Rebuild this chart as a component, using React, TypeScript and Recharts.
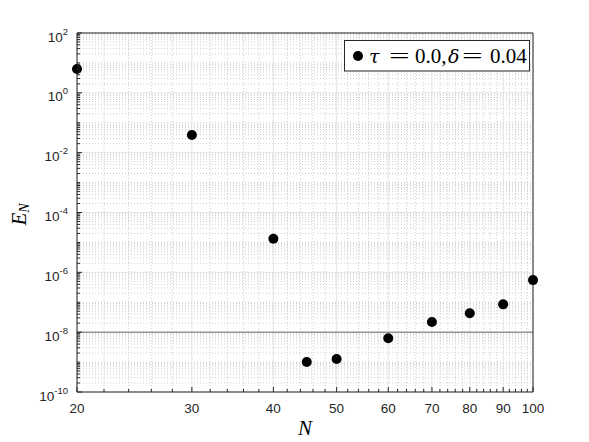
import React from 'react';
import { ScatterChart, Scatter, XAxis, YAxis, ReferenceLine, Legend } from 'recharts';

// ---- data ----
const nValues = [20, 30, 40, 45, 50, 60, 70, 80, 90, 100];
const errorValues = [6.3, 0.039, 1.32e-5, 1.0e-9, 1.26e-9, 6.3e-9, 2.2e-8, 4.3e-8, 8.5e-8, 5.5e-7];
const xMajorTicks = [20, 30, 40, 50, 60, 70, 80, 90, 100];
const xMinorTicks = [22, 24, 26, 28, 32, 34, 36, 38, 42, 44, 46, 48, 52, 54, 56, 58, 62, 64, 66, 68, 72, 74, 76, 78, 82, 84, 86, 88, 92, 94, 96, 98];
const yMajorExponents = [-10, -8, -6, -4, -2, 0, 2];
const yDecadeExponents = [-10, -9, -8, -7, -6, -5, -4, -3, -2, -1, 0, 1];
const yMantissas = [1, 2, 3, 4, 5, 6, 7, 8, 9];
const thresholdValue = 1e-8;
const xDomain = [20, 100];
const yDomain = [1e-10, 1e2];
const seriesName = 'τ = 0.0, δ = 0.04';

const data = nValues.map((n, i) => ({ n, e: errorValues[i] }));
const yMajorTicks = yMajorExponents.map((k) => Math.pow(10, k));
const yMinorTicks: number[] = [];
yDecadeExponents.forEach((k) => {
  yMantissas.forEach((m) => {
    if (m === 1 && yMajorExponents.includes(k)) return;
    yMinorTicks.push(m * Math.pow(10, k));
  });
});
const xAllTicks = [...xMajorTicks, ...xMinorTicks].sort((a, b) => a - b);
const yAllTicks = [...yMajorTicks, ...yMinorTicks].sort((a, b) => a - b);

// ---- style ----
const AXIS = '#262626';
const MAJOR_GRID = '#e3e3e3';
const MINOR_GRID = '#cfcfcf';
const SANS = '"Liberation Sans", Arial, Helvetica, sans-serif';
const SERIF = '"Liberation Serif", "DejaVu Serif", serif';
const GREEK = '"DejaVu Serif", serif';

const isMajorX = (v: number) => xMajorTicks.includes(v);
const yExp = (v: number) => Math.round(Math.log10(v));
const isMajorY = (v: number) => {
  const l = Math.log10(v);
  return Math.abs(l - Math.round(l)) < 1e-6 && yMajorExponents.includes(Math.round(l));
};

const BottomTick = (props: any) => {
  const { x, y, payload } = props;
  const v = payload.value;
  const major = isMajorX(v);
  return (
    <g>
      <line x1={x} x2={x} y1={y} y2={y - (major ? 5 : 3)} stroke={AXIS} strokeWidth={1} />
      {major && (
        <text x={x} y={y + 21} textAnchor="middle" fontFamily={SANS} fontSize={13.5} fill={AXIS}>
          {v}
        </text>
      )}
    </g>
  );
};

const TopTick = (props: any) => {
  const { x, y, payload } = props;
  const major = isMajorX(payload.value);
  return <line x1={x} x2={x} y1={y} y2={y + (major ? 5 : 3)} stroke={AXIS} strokeWidth={1} />;
};

const LeftTick = (props: any) => {
  const { x, y, payload } = props;
  const v = payload.value;
  const major = isMajorY(v);
  return (
    <g>
      <line x1={x} x2={x + (major ? 5 : 3)} y1={y} y2={y} stroke={AXIS} strokeWidth={1} />
      {major && (
        <text x={x - 9} y={y + 8.5} textAnchor="end" fontFamily={SANS} fontSize={13.5} fill={AXIS}>
          10
          <tspan dy={-7} fontSize={9.5}>{String(yExp(v))}</tspan>
        </text>
      )}
    </g>
  );
};

const RightTick = (props: any) => {
  const { x, y, payload } = props;
  const major = isMajorY(payload.value);
  return <line x1={x} x2={x - (major ? 5 : 3)} y1={y} y2={y} stroke={AXIS} strokeWidth={1} />;
};

const XLabel = (props: any) => {
  const vb = props.viewBox || {};
  return (
    <text x={vb.x + vb.width / 2} y={vb.y + 43} textAnchor="middle" fontFamily={SERIF} fontStyle="italic" fontSize={21} fill="#000">
      N
    </text>
  );
};

const YLabel = (props: any) => {
  const vb = props.viewBox || {};
  const cx = vb.x + 26;
  const cy = vb.y + vb.height / 2 + 2;
  return (
    <text transform={`translate(${cx},${cy}) rotate(-90)`} textAnchor="middle" fontFamily={SERIF} fontStyle="italic" fontSize={21} fill="#000">
      E<tspan dy={3} fontSize={14}>N</tspan>
    </text>
  );
};

const Dot = (props: any) => {
  const { cx, cy } = props;
  return <circle cx={cx} cy={cy} r={5} fill="#000" />;
};

const Eq = ({ x }: { x: number }) => (
  <text transform={`translate(${x},23) scale(1.75,1)`} fontFamily={SERIF} fontSize={21} fill="#000">=</text>
);

const LegendBox = () => (
  <svg width={187} height={32} style={{ display: 'block' }}>
    <rect x={0.5} y={0.5} width={185} height={30.5} fill="#fff" stroke={AXIS} strokeWidth={1} />
    <circle cx={14} cy={16} r={5} fill="#000" />
    <text y={23} fontFamily={SERIF} fontSize={21} fill="#000">
      <tspan x={25} fontStyle="italic" fontFamily={GREEK} fontSize={19}>τ</tspan>
      <tspan x={71}>0.0,</tspan>
      <tspan x={104} fontStyle="italic" fontFamily={GREEK} fontSize={19}>δ</tspan>
      <tspan x={146}>0.04</tspan>
    </text>
    <Eq x={45} />
    <Eq x={118} />
  </svg>
);

export default function App() {
  return (
    <div style={{ position: 'absolute', left: 0, top: 0, width: 589, height: 442, background: '#fff' }}>
      <ScatterChart width={589} height={442} margin={{ top: 0, right: 0, bottom: 0, left: 0 }} style={{ fontFamily: SANS }}>
        <XAxis
          xAxisId="b"
          dataKey="n"
          type="number"
          scale="log"
          domain={xDomain}
          ticks={xAllTicks}
          interval={0}
          tick={BottomTick}
          tickLine={false}
          tickSize={0}
          tickMargin={0}
          height={50}
          orientation="bottom"
          axisLine={{ stroke: AXIS, strokeWidth: 1 }}
          label={{ content: XLabel }}
        />
        <XAxis
          xAxisId="t"
          type="number"
          scale="log"
          domain={xDomain}
          ticks={xAllTicks}
          interval={0}
          tick={TopTick}
          tickLine={false}
          tickSize={0}
          tickMargin={0}
          height={33}
          orientation="top"
          axisLine={{ stroke: AXIS, strokeWidth: 1 }}
        />
        <YAxis
          yAxisId="l"
          dataKey="e"
          type="number"
          scale="log"
          domain={yDomain}
          ticks={yAllTicks}
          interval={0}
          tick={LeftTick}
          tickLine={false}
          tickSize={0}
          tickMargin={0}
          width={77}
          orientation="left"
          axisLine={{ stroke: AXIS, strokeWidth: 1 }}
          label={{ content: YLabel }}
        />
        <YAxis
          yAxisId="r"
          type="number"
          scale="log"
          domain={yDomain}
          ticks={yAllTicks}
          interval={0}
          tick={RightTick}
          tickLine={false}
          tickSize={0}
          tickMargin={0}
          width={56}
          orientation="right"
          axisLine={{ stroke: AXIS, strokeWidth: 1 }}
        />
        {yMinorTicks.map((v) => (
          <ReferenceLine key={`ym${v}`} xAxisId="b" yAxisId="l" y={v} stroke={MINOR_GRID} strokeDasharray="1 2" strokeWidth={1} />
        ))}
        {xMinorTicks.map((v) => (
          <ReferenceLine key={`xm${v}`} xAxisId="b" yAxisId="l" x={v} stroke={MINOR_GRID} strokeDasharray="1 2" strokeWidth={1} />
        ))}
        {yMajorTicks.map((v) => (
          <ReferenceLine key={`yM${v}`} xAxisId="b" yAxisId="l" y={v} stroke={MAJOR_GRID} strokeWidth={1} />
        ))}
        {xMajorTicks.map((v) => (
          <ReferenceLine key={`xM${v}`} xAxisId="b" yAxisId="l" x={v} stroke={MAJOR_GRID} strokeWidth={1} />
        ))}
        <ReferenceLine xAxisId="b" yAxisId="l" y={thresholdValue} stroke="#6e6e6e" strokeWidth={1} />
        <Scatter
          name={seriesName}
          data={data}
          xAxisId="b"
          yAxisId="l"
          fill="#000"
          shape={Dot}
          isAnimationActive={false}
        />
        <Legend
          content={LegendBox}
          layout="vertical"
          align="center"
          verticalAlign="middle"
          wrapperStyle={{ position: 'absolute', left: 344, top: 40, width: 187, height: 32 }}
        />
      </ScatterChart>
    </div>
  );
}
